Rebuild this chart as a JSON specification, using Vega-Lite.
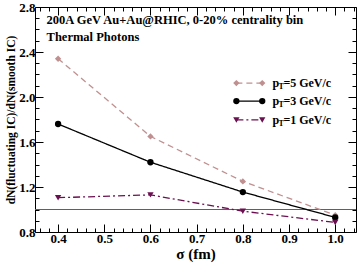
{
  "$schema": "https://vega.github.io/schema/vega-lite/v6.json",
  "autosize": "none",
  "width": 321,
  "height": 225,
  "padding": {"left": 35, "top": 7, "right": 4, "bottom": 31},
  "background": "white",
  "config": {
    "view": {"stroke": "black", "strokeWidth": 1},
    "font": "Liberation Serif",
    "axis": {"labelFont": "Liberation Serif", "titleFont": "Liberation Serif", "labelFontWeight": "bold", "titleFontWeight": "bold", "labelColor": "black", "titleColor": "black", "domainColor": "black", "tickColor": "black", "grid": false}
  },
  "datasets": {
    "curves": [
      {"sigma": 0.4, "ratio": 2.34, "pt": "5"},
      {"sigma": 0.6, "ratio": 1.65, "pt": "5"},
      {"sigma": 0.8, "ratio": 1.25, "pt": "5"},
      {"sigma": 1.0, "ratio": 0.95, "pt": "5"},
      {"sigma": 0.4, "ratio": 1.76, "pt": "3"},
      {"sigma": 0.6, "ratio": 1.42, "pt": "3"},
      {"sigma": 0.8, "ratio": 1.155, "pt": "3"},
      {"sigma": 1.0, "ratio": 0.93, "pt": "3"},
      {"sigma": 0.4, "ratio": 1.105, "pt": "1"},
      {"sigma": 0.6, "ratio": 1.13, "pt": "1"},
      {"sigma": 0.8, "ratio": 0.985, "pt": "1"},
      {"sigma": 1.0, "ratio": 0.885, "pt": "1"}
    ],
    "legend": [
      {"sigma": 0.786, "ratio": 2.124, "pt": "5", "label": "=5 GeV/c"},
      {"sigma": 0.842, "ratio": 2.124, "pt": "5", "label": ""},
      {"sigma": 0.786, "ratio": 1.964, "pt": "3", "label": "=3 GeV/c"},
      {"sigma": 0.842, "ratio": 1.964, "pt": "3", "label": ""},
      {"sigma": 0.786, "ratio": 1.796, "pt": "1", "label": "=1 GeV/c"},
      {"sigma": 0.842, "ratio": 1.796, "pt": "1", "label": ""}
    ],
    "notes": [
      {"sigma": 0.375, "ratio": 2.684, "text": "200A GeV Au+Au@RHIC, 0-20% centrality bin"},
      {"sigma": 0.375, "ratio": 2.533, "text": "Thermal Photons"}
    ],
    "ref": [{"ratio": 1.0}]
  },
  "layer": [
    {
      "data": {"name": "ref"},
      "mark": {"type": "rule", "color": "#606060", "strokeWidth": 1.2},
      "encoding": {
        "y": {"field": "ratio", "type": "quantitative", "scale": {"domain": [0.8, 2.8], "nice": false, "zero": false},
          "axis": {"orient": "right", "title": null, "labels": false, "domain": false,
            "values": [0.8,0.9,1.0,1.1,1.2,1.3,1.4,1.5,1.6,1.7,1.8,1.9,2.0,2.1,2.2,2.3,2.4,2.5,2.6,2.7,2.8],
            "tickSize": {"condition": {"test": "abs(datum.value*10 % 4) < 0.01 || abs(datum.value*10 % 4 - 4) < 0.01", "value": -8}, "value": -4}}}
      }
    },
    {
      "data": {"name": "curves"},
      "mark": {"type": "line", "strokeWidth": 1.3},
      "encoding": {
        "x": {"field": "sigma", "type": "quantitative", "scale": {"domain": [0.35, 1.045], "nice": false, "zero": false},
          "axis": {"title": "σ (fm)", "titleFontSize": 15, "titlePadding": 1, "labelFontSize": 13, "labelPadding": 8, "domain": false,
            "values": [0.36,0.38,0.4,0.42,0.44,0.46,0.48,0.5,0.52,0.54,0.56,0.58,0.6,0.62,0.64,0.66,0.68,0.7,0.72,0.74,0.76,0.78,0.8,0.82,0.84,0.86,0.88,0.9,0.92,0.94,0.96,0.98,1.0,1.02,1.04],
            "labelExpr": "abs(datum.value*10 - round(datum.value*10)) < 0.01 ? format(datum.value, '.1f') : ''",
            "tickSize": {"condition": {"test": "abs(datum.value*10 - round(datum.value*10)) < 0.01", "value": -8}, "value": -4}}},
        "y": {"field": "ratio", "type": "quantitative", "scale": {"domain": [0.8, 2.8], "nice": false, "zero": false},
          "axis": {"title": "dN(fluctuating IC)/dN(smooth IC)", "titleFontSize": 11.5, "titlePadding": 2, "labelFontSize": 13, "labelPadding": 8, "domain": false,
            "values": [0.8,0.9,1.0,1.1,1.2,1.3,1.4,1.5,1.6,1.7,1.8,1.9,2.0,2.1,2.2,2.3,2.4,2.5,2.6,2.7,2.8],
            "labelExpr": "abs(datum.value*10 % 4) < 0.01 || abs(datum.value*10 % 4 - 4) < 0.01 ? format(datum.value, '.1f') : ''",
            "tickSize": {"condition": {"test": "abs(datum.value*10 % 4) < 0.01 || abs(datum.value*10 % 4 - 4) < 0.01", "value": -8}, "value": -4}}},
        "color": {"field": "pt", "type": "nominal", "scale": {"domain": ["5", "3", "1"], "range": ["#c09090", "#000000", "#6a1050"]}, "legend": null},
        "strokeDash": {"field": "pt", "type": "nominal", "scale": {"domain": ["5", "3", "1"], "range": [[6, 4], [1, 0], [7, 3, 2, 3]]}, "legend": null}
      }
    },
    {
      "data": {"name": "curves"},
      "mark": {"type": "point", "filled": true, "opacity": 1, "size": 40},
      "encoding": {
        "x": {"field": "sigma", "type": "quantitative", "axis": {"orient": "top", "title": null, "labels": false, "domain": false,
            "values": [0.36,0.38,0.4,0.42,0.44,0.46,0.48,0.5,0.52,0.54,0.56,0.58,0.6,0.62,0.64,0.66,0.68,0.7,0.72,0.74,0.76,0.78,0.8,0.82,0.84,0.86,0.88,0.9,0.92,0.94,0.96,0.98,1.0,1.02,1.04],
            "tickSize": {"condition": {"test": "abs(datum.value*10 - round(datum.value*10)) < 0.01", "value": -8}, "value": -4}}},
        "y": {"field": "ratio", "type": "quantitative", "axis": null},
        "color": {"field": "pt", "type": "nominal", "legend": null},
        "shape": {"field": "pt", "type": "nominal", "scale": {"domain": ["5", "3", "1"], "range": ["diamond", "circle", "triangle-down"]}, "legend": null}
      }
    },
    {
      "data": {"name": "legend"},
      "mark": {"type": "line", "strokeWidth": 1.3},
      "encoding": {
        "x": {"field": "sigma", "type": "quantitative", "axis": null},
        "y": {"field": "ratio", "type": "quantitative", "axis": null},
        "color": {"field": "pt", "type": "nominal", "legend": null},
        "strokeDash": {"field": "pt", "type": "nominal", "legend": null}
      }
    },
    {
      "data": {"name": "legend"},
      "mark": {"type": "point", "filled": true, "opacity": 1, "size": 40},
      "encoding": {
        "x": {"field": "sigma", "type": "quantitative", "axis": null},
        "y": {"field": "ratio", "type": "quantitative", "axis": null},
        "color": {"field": "pt", "type": "nominal", "legend": null},
        "shape": {"field": "pt", "type": "nominal", "legend": null}
      }
    },
    {
      "data": {"name": "legend"},
      "transform": [{"filter": "datum.label != ''"}],
      "mark": {"type": "text", "align": "left", "baseline": "middle", "font": "Liberation Serif", "fontWeight": "bold", "fontSize": 12, "dx": 36, "color": "black"},
      "encoding": {
        "x": {"field": "sigma", "type": "quantitative", "axis": null},
        "y": {"field": "ratio", "type": "quantitative", "axis": null},
        "text": {"value": "p"}
      }
    },
    {
      "data": {"name": "legend"},
      "transform": [{"filter": "datum.label != ''"}],
      "mark": {"type": "text", "align": "left", "baseline": "middle", "font": "Liberation Serif", "fontWeight": "bold", "fontSize": 8, "dx": 42, "dy": 4, "color": "black"},
      "encoding": {
        "x": {"field": "sigma", "type": "quantitative", "axis": null},
        "y": {"field": "ratio", "type": "quantitative", "axis": null},
        "text": {"value": "T"}
      }
    },
    {
      "data": {"name": "legend"},
      "transform": [{"filter": "datum.label != ''"}],
      "mark": {"type": "text", "align": "left", "baseline": "middle", "font": "Liberation Serif", "fontWeight": "bold", "fontSize": 12, "dx": 47, "color": "black"},
      "encoding": {
        "x": {"field": "sigma", "type": "quantitative", "axis": null},
        "y": {"field": "ratio", "type": "quantitative", "axis": null},
        "text": {"field": "label"}
      }
    },
    {
      "data": {"name": "notes"},
      "mark": {"type": "text", "align": "left", "baseline": "middle", "font": "Liberation Serif", "fontWeight": "bold", "fontSize": 12.5, "color": "black"},
      "encoding": {
        "x": {"field": "sigma", "type": "quantitative", "axis": null},
        "y": {"field": "ratio", "type": "quantitative", "axis": null},
        "text": {"field": "text"}
      }
    }
  ],
  "resolve": {"axis": {"x": "independent", "y": "independent"}}
}
